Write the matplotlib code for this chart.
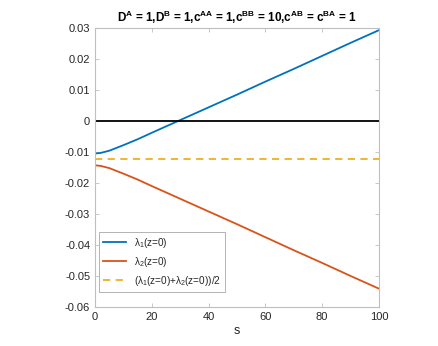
import matplotlib
matplotlib.use("Agg")
import matplotlib.pyplot as plt

# values
s = [0, 2, 5, 10, 15, 20, 30, 40, 50, 60, 70, 80, 90, 100]
lam1 = [-0.0105, -0.0103, -0.0096, -0.0078, -0.0059, -0.0038, 0.0003,
        0.0044, 0.0085, 0.0127, 0.0168, 0.0210, 0.0252, 0.0293]
lam2 = [-0.0143, -0.0145, -0.0152, -0.0170, -0.0189, -0.0210, -0.0251,
        -0.0292, -0.0333, -0.0375, -0.0417, -0.0458, -0.0500, -0.0541]
lam_mean = [-0.0124, -0.0124]
mean_s = [0, 100]
zero_s = [0, 100]
zero_y = [0, 0]
xticks = [0, 20, 40, 60, 80, 100]
yticks = [-0.06, -0.05, -0.04, -0.03, -0.02, -0.01, 0, 0.01, 0.02, 0.03]
ytick_labels = ["-0.06", "-0.05", "-0.04", "-0.03", "-0.02", "-0.01", "0",
                "0.01", "0.02", "0.03"]

plt.rcParams["font.family"] = ["Liberation Sans", "DejaVu Sans"]
plt.rcParams["mathtext.fontset"] = "custom"
plt.rcParams["mathtext.rm"] = "Liberation Sans"
plt.rcParams["mathtext.it"] = "Liberation Sans"
plt.rcParams["mathtext.bf"] = "Liberation Sans:bold"

fig = plt.figure(figsize=(4.38, 3.46), dpi=100)
ax = fig.add_axes([0.217, 0.113, 0.648, 0.806])

ax.plot(s, lam1, color="#0072BD", lw=1.3, label=r"$\lambda_1$(z=0)")
ax.plot(s, lam2, color="#D95319", lw=1.3, label=r"$\lambda_2$(z=0)")
ax.plot(mean_s, lam_mean, color="#EDB120", lw=1.3, ls=(0, (4, 3)),
        label=r"($\lambda_1$(z=0)+$\lambda_2$(z=0))/2")
ax.plot(zero_s, zero_y, color="black", lw=1.3)

ax.set_xlim(0, 100)
ax.set_ylim(-0.06, 0.03)
ax.set_xticks(xticks)
ax.set_yticks(yticks)
ax.set_yticklabels(ytick_labels)
ax.tick_params(direction="in", length=3, width=0.6, colors="#BFBFBF",
               labelsize=8, top=True, right=True, labelcolor="#262626")
for sp in ax.spines.values():
    sp.set_color("#BFBFBF")
    sp.set_linewidth(0.8)
ax.set_xlabel("s", fontsize=9, color="#262626", labelpad=2)
ax.set_title(r"D$^\mathbf{A}$ = 1,D$^\mathbf{B}$ = 1,c$^\mathbf{AA}$ = 1,"
             r"c$^\mathbf{BB}$ = 10,c$^\mathbf{AB}$ = c$^\mathbf{BA}$ = 1",
             fontsize=8.5, fontweight="bold", pad=4)

leg = ax.legend(loc="lower left", fontsize=7.2, fancybox=False,
                edgecolor="#A0A0A0", borderpad=0.4, handlelength=2.3,
                labelspacing=0.5, bbox_to_anchor=(0.015, 0.055),
                borderaxespad=0)
leg.get_frame().set_linewidth(0.7)
for t in leg.get_texts():
    t.set_color("#262626")

fig.savefig("out.png", dpi=100)
